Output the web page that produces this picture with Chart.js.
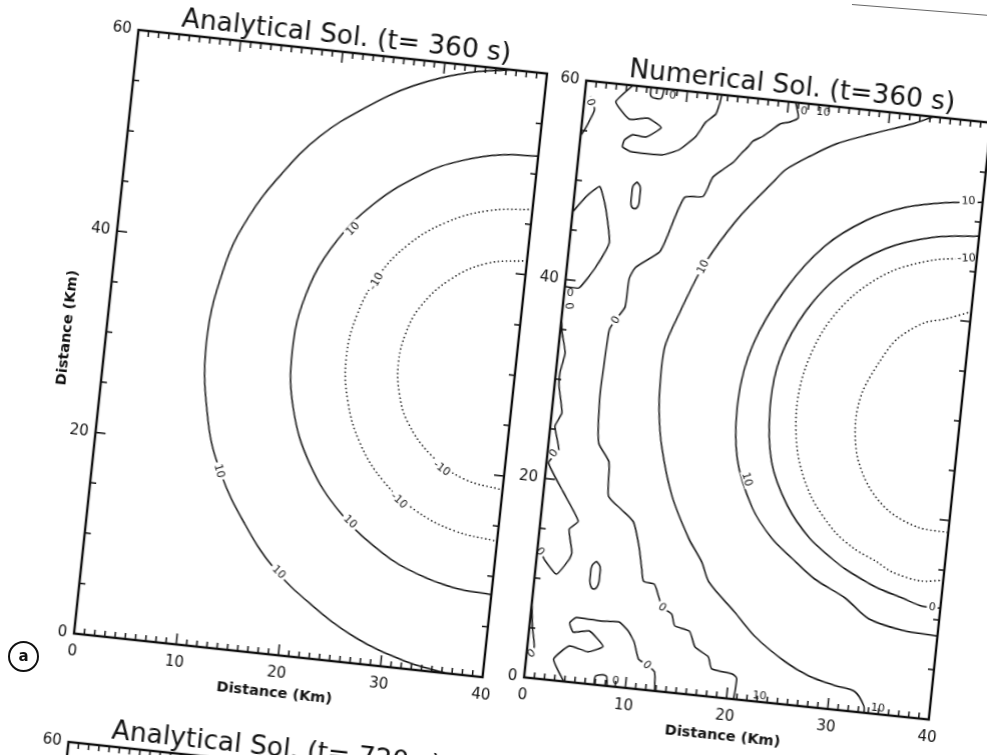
<!DOCTYPE html>
<html>
<head>
<meta charset="utf-8">
<script src="https://cdn.jsdelivr.net/npm/chart.js@4.4.1/dist/chart.umd.min.js"></script>
<style>
  html, body { margin: 0; padding: 0; background: #fff; }
  body { position: relative; width: 987px; height: 755px; overflow: hidden; }
  canvas { position: absolute; left: 0; top: 0; }
  #tag {
    position: absolute; left: 8px; top: 641px; width: 27px; height: 27px;
    border: 2px solid #111; border-radius: 50%;
    font: bold 15px "DejaVu Sans", sans-serif; color: #111;
    display: flex; align-items: center; justify-content: center; line-height: 1;
  }
  #sheetEdge {
    position: absolute; left: 852px; top: 4px; width: 140px; height: 0;
    border-top: 1px solid #666; transform-origin: 0 0; transform: rotate(4.6deg);
  }
</style>
</head>
<body>
<canvas id="ana"></canvas>
<canvas id="num"></canvas>
<canvas id="ana2"></canvas>
<div id="tag">a</div>
<div id="sheetEdge"></div>
<script>
// ---- axis ticks (km) ----
const xTicks = [0, 10, 20, 30, 40];
const yTicks = [0, 20, 40, 60];

// ---- analytical solution, t = 360 s : contour lines [x km, y km] ----
const anaRing10Outer = [[36.5,60],[32.2,59.2],[27.2,57.4],[22.7,54.7],[18.6,51.4],[15.3,47.3],[12.6,42.8],[10.8,37.8],[9.8,30],[10.8,22.2],[12.6,17.2],[15.3,12.7],[18.6,8.6],[22.7,5.3],[27.2,2.6],[32.2,0.8],[36.5,0]];
const anaRing10Inner = [[40,51.8],[36.2,51.5],[32.5,50.5],[29.1,48.9],[24.6,45.4],[21.1,40.9],[18.9,35.6],[18.2,30],[18.9,24.4],[21.1,19.1],[24.6,14.6],[29.1,11.1],[32.5,9.5],[36.2,8.5],[40,8.2]];
const anaTroughOuter = [[40,46.5],[35.7,45.9],[31.75,44.3],[28.3,41.7],[25.7,38.25],[24.1,34.3],[23.5,30],[24.1,25.7],[25.7,21.75],[28.3,18.3],[31.75,15.7],[35.7,14.1],[40,13.5]];
const anaTroughInner = [[40,41.4],[36.1,40.7],[32.7,38.7],[30.1,35.7],[29.0,32.95],[28.6,30],[29.0,27.05],[30.1,24.3],[32.7,21.3],[36.1,19.3],[40,18.6]];

// ---- numerical solution, t = 360 s : contour lines [x km, y km] ----
const numZeroFront = [[20.7,60],[21.1,58.5],[20.35,58.0],[19.4,57.7],[18.5,56.9],[17.85,56.3],[16.9,55.7],[16.5,55.1],[16.0,54.5],[15.2,53.4],[14.3,52.6],[13.35,51.7],[12.6,49.7],[10.8,49.4],[9.4,45.0],[8.9,43.7],[6.7,41.9],[6.2,40.7],[6.1,37.9],[5.3,36.5],[4.8,35.5],[4.65,32.7],[4.55,28.7],[4.9,24.1],[6.1,22.3],[6.4,18.9],[7.8,17.7],[9.1,16.6],[9.9,14.2],[10.4,12.0],[10.7,10.8],[11.8,10.6],[12.3,9.5],[12.8,8.4],[13.8,7.8],[14.2,6.7],[15.7,6.3],[16.4,4.8],[17.8,3.95],[18.25,2.8],[20.3,2.5],[20.8,2.1],[20.7,0]];
const numZeroTopBlob = [[4.6,60],[3.1,58.2],[4.6,56.6],[6.4,56.9],[7.8,56.1],[6.4,55.0],[5.1,55.1],[4.35,54.5],[4.2,53.8],[5.05,53.4],[8.2,53.4],[9.8,54.1],[11.3,55.6],[12.1,57.1],[13.0,58.0],[13.3,59.2],[13.4,60]];
const numZeroLowBlob = [[3.9,0],[2.7,2.1],[4.1,3.6],[6.0,3.2],[7.4,3.9],[5.9,5.3],[4.35,5.0],[3.9,5.9],[4.5,6.5],[7.0,6.4],[8.7,6.5],[9.7,5.7],[10.4,4.65],[11.0,3.0],[11.9,2.5],[12.7,1.9],[12.9,0]];
const numZeroEdgeTop = [[0,46.8],[1.2,48.5],[2.4,49.6],[3.2,47.5],[3.9,44.1],[2.8,41.5],[1.4,39.3],[0,39.3]];
const numZeroEdgeMid = [[0,36.0],[0.2,34.7],[0.7,32.7],[0.4,30.7],[0.45,29.3],[1.0,26.7],[0.45,25.3],[1.06,23.0],[0.2,21.6],[1.9,18.9],[3.7,16.1],[2.9,15.2],[3.4,12.9],[3.2,12.2],[2.1,10.6],[0.8,11.9],[0.3,12.7],[0,13.0]];
const numZeroEdgeLow = [[0,7.5],[0.3,5.1],[0.67,3.2],[0.45,2.45],[0,2.0]];
const numZeroCorner = [[0.6,58.5],[1.1,57.2],[0.7,56.0],[0.3,55.0],[0,54.5]];
const numZeroIsleTop = [[6.0,50.45],[6.35,50.0],[6.4,49.1],[6.35,48.1],[6.0,47.75],[5.65,48.1],[5.6,49.1],[5.65,50.0],[6.0,50.45]];
const numZeroIsleLow = [[5.9,12.3],[6.3,11.8],[6.35,10.9],[6.3,10.0],[5.9,9.5],[5.5,10.0],[5.45,10.9],[5.5,11.8],[5.9,12.3]];
const numZeroTopNub = [[6.4,60],[6.5,59.1],[7.5,59.0],[7.7,60]];
const numZeroLowNub = [[6.9,0],[7.0,0.9],[8.0,1.0],[8.2,0]];
const numRing10Outer = [[34.3,60],[32.4,59.1],[28.3,57.6],[25.1,56.3],[22.65,54.8],[20.4,53.2],[19.5,52.1],[16.2,47.8],[13.3,42.7],[11.5,37.9],[10.4,34.4],[10.3,31.0],[10.5,27.8],[11.1,24.4],[12.6,19.6],[14.7,15.5],[16.2,13.3],[17.1,11.4],[19.9,8.7],[22.1,6.5],[25.3,4.3],[27.8,3.1],[30.5,2.4],[32.5,2.0],[33.5,0.7],[33.6,0]];
const numRing10Inner = [[40,52.0],[36.5,51.6],[32.5,50.7],[28.8,49.0],[25.0,46.0],[21.6,41.3],[19.0,35.5],[18.1,30.0],[18.6,24.0],[20.6,19.2],[22.8,16.4],[25.0,14.6],[27.4,12.8],[30.6,11.2],[33.1,9.4],[36.5,8.6],[39.8,8.4],[40,8.4]];
const numZeroInner = [[40,48.6],[35.5,48.0],[31.0,46.4],[27.0,43.5],[23.9,39.5],[21.8,34.5],[21.3,29.5],[22.0,24.0],[24.0,19.8],[26.5,16.8],[28.9,15.0],[30.3,14.1],[32.8,12.9],[33.8,12.5],[36.2,11.8],[38.2,11.2],[40,11.2]];
const numTroughOuter = [[40,46.3],[36.0,45.8],[31.8,44.2],[28.3,41.4],[25.8,37.8],[24.3,33.5],[23.9,29.5],[24.5,25.0],[26.2,21.0],[28.8,17.8],[31.0,16.2],[33.2,15.2],[34.9,14.3],[37.7,13.7],[40,14.0]];
const numTroughInner = [[40,41.0],[37.5,40.0],[35.5,39.4],[33.0,37.5],[31.5,35.0],[30.2,32.0],[29.8,29.0],[30.3,25.5],[31.8,22.5],[34.0,20.3],[37.0,19.0],[40,18.8]];

// ---- contour level labels: {on: line or null, x, y, text} ----
const anaLabels = [
  { on: anaRing10Outer, x: 12.4, y: 17.5, text: '10' },
  { on: anaRing10Outer, x: 19.2, y: 8.2, text: '10' },
  { on: anaRing10Inner, x: 22.8, y: 42.7, text: '10' },
  { on: anaRing10Inner, x: 25.6, y: 13.9, text: '10' },
  { on: anaTroughOuter, x: 25.6, y: 37.8, text: '-10' },
  { on: anaTroughOuter, x: 30.1, y: 16.5, text: '-10' },
  { on: anaTroughInner, x: 33.9, y: 20.1, text: '-10' }
];
const numLabels = [
  { on: numZeroFront, x: 5.3, y: 36.5, text: '0' },
  { on: numZeroFront, x: 12.8, y: 8.4, text: '0' },
  { on: numZeroLowBlob, x: 11.9, y: 2.5, text: '0' },
  { on: numZeroEdgeTop, x: 0.6, y: 38.7, text: '0' },
  { on: numZeroEdgeMid, x: 0.6, y: 37.4, text: '0' },
  { on: numZeroEdgeMid, x: 0.6, y: 22.6, text: '0' },
  { on: numZeroEdgeMid, x: 0.3, y: 12.7, text: '0' },
  { on: numZeroEdgeLow, x: 0.45, y: 2.45, text: '0' },
  { on: numZeroCorner, x: 0.65, y: 57.9, text: '0' },
  { on: null, x: 8.6, y: 59.4, text: '0' },
  { on: null, x: 21.6, y: 59.2, text: '0' },
  { on: null, x: 23.5, y: 59.3, text: '10' },
  { on: null, x: 9.0, y: 0.6, text: '0' },
  { on: null, x: 23.2, y: 0.6, text: '10' },
  { on: null, x: 34.9, y: 0.6, text: '10' },
  { on: numRing10Outer, x: 13.3, y: 42.7, text: '10' },
  { on: numRing10Inner, x: 19.8, y: 22.0, text: '10' },
  { on: numRing10Inner, x: 38.6, y: 52.0, text: '10' },
  { on: numTroughOuter, x: 39.0, y: 46.3, text: '-10' },
  { on: numZeroInner, x: 39.2, y: 11.2, text: '0' }
];

const INK = '#111';

// box with inward minor/major ticks on all four sides
const framePlugin = {
  id: 'frame',
  afterDraw(chart) {
    const { ctx, chartArea: a, scales: { x, y } } = chart;
    ctx.save();
    ctx.strokeStyle = INK;
    ctx.lineWidth = 1.5;
    ctx.beginPath();
    for (let v = x.min; v <= x.max; v += 1) {
      const p = x.getPixelForValue(v);
      const len = v % 10 === 0 ? 11 : 6;
      ctx.moveTo(p, a.bottom); ctx.lineTo(p, a.bottom - len);
      ctx.moveTo(p, a.top); ctx.lineTo(p, a.top + len);
    }
    for (let v = y.min; v <= y.max; v += 5) {
      const p = y.getPixelForValue(v);
      const len = v % 20 === 0 ? 10 : 6;
      ctx.moveTo(a.left, p); ctx.lineTo(a.left + len, p);
      ctx.moveTo(a.right, p); ctx.lineTo(a.right - len, p);
    }
    ctx.stroke();
    ctx.lineWidth = 2.4;
    ctx.strokeRect(a.left, a.top, a.right - a.left, a.bottom - a.top);
    ctx.restore();
  }
};

// panel heading centred above the plot box
const headPlugin = {
  id: 'head',
  afterDraw(chart, args, opts) {
    const { ctx, chartArea: a } = chart;
    ctx.save();
    ctx.font = '26.5px "DejaVu Sans", sans-serif';
    ctx.fillStyle = INK;
    ctx.textAlign = 'center';
    ctx.textBaseline = 'alphabetic';
    ctx.fillText(opts.text, (a.left + a.right) / 2 + 2, a.top - 8);
    ctx.restore();
  }
};

// level numbers written along their contour, with a gap cut in the line
const levelPlugin = {
  id: 'levels',
  afterDatasetsDraw(chart, args, opts) {
    const { ctx, chartArea: a, scales: { x, y } } = chart;
    ctx.save();
    ctx.beginPath();
    ctx.rect(a.left, a.top, a.right - a.left, a.bottom - a.top);
    ctx.clip();
    ctx.font = '11px "DejaVu Sans", sans-serif';
    ctx.textAlign = 'center';
    ctx.textBaseline = 'middle';
    (opts.items || []).forEach(l => {
      const px = x.getPixelForValue(l.x), py = y.getPixelForValue(l.y);
      let ang = 0;
      if (l.index >= 0) {
        const pts = chart.getDatasetMeta(l.index).data;
        let best = Infinity;
        for (let i = 0; i < pts.length - 1; i++) {
          const mx = (pts[i].x + pts[i + 1].x) / 2, my = (pts[i].y + pts[i + 1].y) / 2;
          const d = (mx - px) ** 2 + (my - py) ** 2;
          if (d < best) { best = d; ang = Math.atan2(pts[i + 1].y - pts[i].y, pts[i + 1].x - pts[i].x); }
        }
      }
      if (ang > Math.PI / 2) ang -= Math.PI;
      if (ang < -Math.PI / 2) ang += Math.PI;
      ctx.save();
      ctx.translate(px, py);
      ctx.rotate(ang);
      const w = ctx.measureText(l.text).width;
      if (l.index >= 0) {
        ctx.fillStyle = '#fff';
        ctx.fillRect(-w / 2 - 2, -5, w + 4, 10);
      }
      ctx.fillStyle = INK;
      ctx.fillText(l.text, 0, 0.5);
      ctx.restore();
    });
    ctx.restore();
  }
};

const tickFont = { family: '"DejaVu Sans", sans-serif', size: 15 };
const axisTitleFont = { family: '"DejaVu Sans", sans-serif', size: 14.5, weight: 'bold' };

function buildPanel(canvasId, heading, lines, labels, showYTitle, place) {
  const PAD = { left: 12, right: 14, top: 44, bottom: 6 };
  const YW = 47, XH = 47;
  const cv = document.getElementById(canvasId);
  cv.width = PAD.left + YW + place.w + PAD.right;
  cv.height = PAD.top + place.h + XH + PAD.bottom;

  const datasets = lines.map(c => ({
    data: c.pts.map(([px, py]) => ({ x: px, y: py })),
    showLine: true,
    borderColor: INK,
    borderWidth: c.dotted ? 1.6 : 1.5,
    borderDash: c.dotted ? [0.1, 4] : [],
    borderCapStyle: c.dotted ? 'round' : 'butt',
    tension: c.tension != null ? c.tension : 0.4,
    pointRadius: 0,
    fill: false
  }));
  const items = labels.map(l => ({
    index: l.on ? lines.findIndex(c => c.pts === l.on) : -1, x: l.x, y: l.y, text: l.text
  }));

  const chart = new Chart(cv, {
    type: 'scatter',
    data: { datasets },
    options: {
      responsive: false,
      maintainAspectRatio: false,
      animation: false,
      devicePixelRatio: 1,
      layout: { padding: PAD },
      plugins: {
        legend: { display: false },
        tooltip: { enabled: false },
        head: { text: heading },
        levels: { items }
      },
      scales: {
        x: {
          type: 'linear', min: 0, max: 40,
          afterBuildTicks: s => { s.ticks = xTicks.map(v => ({ value: v })); },
          afterFit: s => { s.height = XH; },
          grid: { display: false, drawTicks: false },
          border: { display: false },
          ticks: { font: tickFont, color: INK, padding: 9, maxRotation: 0, autoSkip: false },
          title: { display: true, text: 'Distance (Km)', font: axisTitleFont, color: INK, padding: 0 }
        },
        y: {
          type: 'linear', min: 0, max: 60,
          afterBuildTicks: s => { s.ticks = yTicks.map(v => ({ value: v })); },
          afterFit: s => { s.width = YW; },
          grid: { display: false, drawTicks: false },
          border: { display: false },
          ticks: { font: tickFont, color: INK, padding: 7, autoSkip: false },
          title: { display: showYTitle, text: 'Distance (Km)', font: axisTitleFont, color: INK, padding: 0 }
        }
      }
    },
    plugins: [framePlugin, headPlugin, levelPlugin]
  });

  // set the plot box to the requested size, then turn the sheet about its centre
  let a = chart.chartArea;
  const dw = place.w - (a.right - a.left), dh = place.h - (a.bottom - a.top);
  if (Math.abs(dw) > 0.5 || Math.abs(dh) > 0.5) {
    chart.resize(cv.width + dw, cv.height + dh);
    a = chart.chartArea;
  }
  const cx = (a.left + a.right) / 2, cy = (a.top + a.bottom) / 2;
  cv.style.left = (place.cx - cx) + 'px';
  cv.style.top = (place.cy - cy) + 'px';
  cv.style.transformOrigin = cx + 'px ' + cy + 'px';
  cv.style.transform = 'rotate(' + place.rot + 'deg)';
  return chart;
}

buildPanel('ana', 'Analytical Sol. (t= 360 s)', [
  { pts: anaRing10Outer },
  { pts: anaRing10Inner },
  { pts: anaTroughOuter, dotted: true },
  { pts: anaTroughInner, dotted: true }
], anaLabels, true, { cx: 309.8, cy: 353.8, w: 410, h: 607, rot: 6.1 });

buildPanel('num', 'Numerical Sol. (t=360 s)', [
  { pts: numZeroFront, tension: 0.2 },
  { pts: numZeroTopBlob, tension: 0.15 },
  { pts: numZeroLowBlob, tension: 0.15 },
  { pts: numZeroEdgeTop, tension: 0.15 },
  { pts: numZeroEdgeMid, tension: 0.15 },
  { pts: numZeroEdgeLow, tension: 0.2 },
  { pts: numZeroCorner, tension: 0.2 },
  { pts: numZeroIsleTop, tension: 0.4 },
  { pts: numZeroIsleLow, tension: 0.4 },
  { pts: numZeroTopNub, tension: 0.3 },
  { pts: numZeroLowNub, tension: 0.3 },
  { pts: numRing10Outer, tension: 0.3 },
  { pts: numRing10Inner, tension: 0.3 },
  { pts: numZeroInner, tension: 0.3 },
  { pts: numTroughOuter, dotted: true, tension: 0.3 },
  { pts: numTroughInner, dotted: true, tension: 0.3 }
], numLabels, false, { cx: 757, cy: 400, w: 406, h: 600, rot: 5.95 });

buildPanel('ana2', 'Analytical Sol. (t= 720 s)', [], [], true,
  { cx: 240, cy: 1065.8, w: 410, h: 607, rot: 6.1 });
</script>
</body>
</html>
